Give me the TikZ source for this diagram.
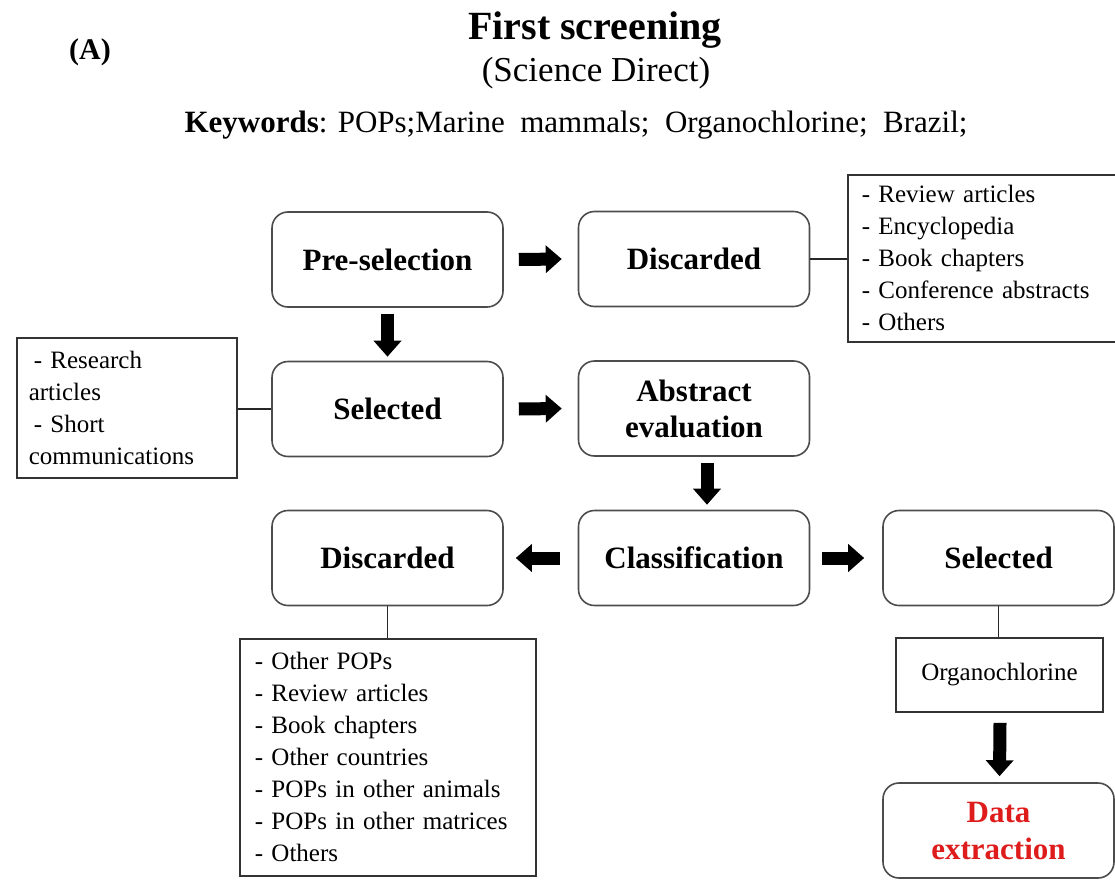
\documentclass[tikz,border=0pt]{standalone}
\usepackage{fontspec}
\setmainfont{Liberation Serif}
\usetikzlibrary{arrows.meta}
\definecolor{redtext}{RGB}{222,28,28}
\tikzset{
  rbox/.style={draw=black!70, line width=1.6pt, rounded corners=16pt,
    minimum width=231pt, minimum height=95pt, align=center, inner sep=0pt,
    font=\fontsize{31}{36}\selectfont\bfseries},
  lbox/.style={draw=black!80, line width=1.6pt, align=left, inner ysep=0pt,
    anchor=north west, font=\fontsize{25}{32}\selectfont},
  link/.style={draw=black!85, line width=1.8pt},
  barrow/.style={line width=13pt, -{Triangle[width=27pt,length=16pt]}},
}
\begin{document}
\begin{tikzpicture}[x=1pt,y=-1pt]
\useasboundingbox (0,0) rectangle (1115,880);

% header
\node[font=\fontsize{30}{30}\selectfont\bfseries] (lab) at (90,52) {(A)};
\node[font=\fontsize{40}{40}\selectfont\bfseries] (title) at (595,30) {First screening};
\node[font=\fontsize{35}{35}\selectfont] (src) at (596,73) {(Science Direct)};
\node[font=\fontsize{31}{31}\selectfont] (kw) at (576,125) {\textbf{Keywords}: POPs;Marine\ \ mammals;\ \ Organochlorine;\ \ Brazil;};

% rounded boxes
\node[rbox] (pre)   at (387.5,259.5) {Pre-selection};
\node[rbox] (disc1) at (694,259)     {Discarded};
\node[rbox] (sel1)  at (387.5,409)   {Selected};
\node[rbox] (abs)   at (694,408.5)   {Abstract\\evaluation};
\node[rbox] (cls)   at (694,558)     {Classification};
\node[rbox] (disc2) at (387.5,558)   {Discarded};
\node[rbox] (sel2)  at (998.5,558)   {Selected};
\node[rbox, text=redtext, font=\fontsize{31}{37}\selectfont\bfseries] (data) at (998.5,830.5) {Data\\extraction};

% list boxes
\node[lbox, text width=240pt, inner xsep=14pt, minimum height=167pt] (tl) at (847,174)
  {- Review articles\\- Encyclopedia\\- Book chapters\\- Conference abstracts\\- Others};
\node[lbox, text width=196pt, inner xsep=12pt, minimum height=140pt] (ll) at (16,337)
  {\hspace*{5pt}- Research\\articles\\\hspace*{5pt}- Short\\communications};
\node[lbox, text width=266pt, inner xsep=15pt, minimum height=237pt] (bl) at (239,638)
  {- Other POPs\\- Review articles\\- Book chapters\\- Other countries\\- POPs in other animals\\- POPs in other matrices\\- Others};
\node[draw=black!80, line width=1.6pt, minimum width=207pt, minimum height=74pt, inner sep=0pt,
  font=\fontsize{25}{30}\selectfont] (org) at (999.5,675) {\raisebox{-3pt}{Organochlorine}};

% thin connectors
\draw[link] (disc1.east) -- (disc1.east -| tl.west);
\draw[link] (sel1.west) -- (sel1.west -| ll.east);
\draw[link] (disc2.south) -- (disc2.south |- bl.north);
\draw[link] (sel2.south) -- (sel2.south |- org.north);

% block arrows
\draw[barrow] ([xshift=15pt]pre.east) -- ([xshift=-16pt]disc1.west);
\draw[barrow] ([yshift=-6pt]pre.south) -- ([yshift=4pt]sel1.north);
\draw[barrow] ([xshift=15pt]sel1.east) -- ([xshift=-16pt]abs.west);
\draw[barrow] ([xshift=13pt,yshift=-6pt]abs.south) -- ([xshift=13pt,yshift=5pt]cls.north);
\draw[barrow] ([xshift=-18pt]cls.west) -- ([xshift=12pt]disc2.east);
\draw[barrow] ([xshift=12pt]cls.east) -- ([xshift=-18pt]sel2.west);
\draw[barrow] ([xshift=0.5pt,yshift=-10pt]org.south) -- ([xshift=1pt,yshift=6pt]data.north);
\end{tikzpicture}
\end{document}
